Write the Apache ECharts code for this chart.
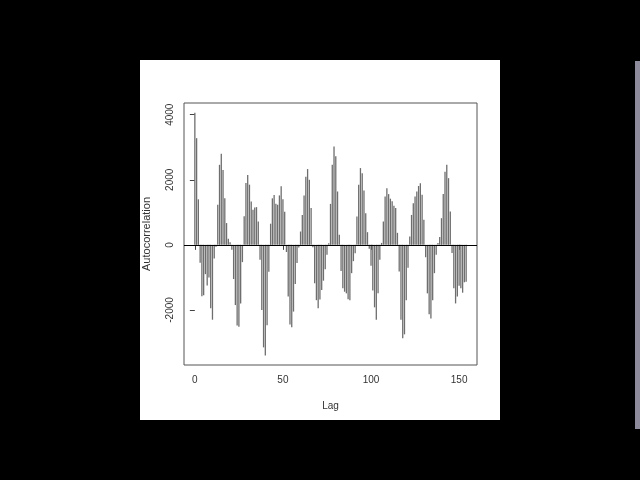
<!DOCTYPE html>
<html>
<head>
<meta charset="utf-8">
<script src="https://cdn.jsdelivr.net/npm/echarts@6/dist/echarts.min.js"></script>
<style>
html,body{margin:0;padding:0;background:#000;}
#chart{width:640px;height:480px;}
</style>
</head>
<body>
<div id="chart"></div>
<script>
// Lags 0..154
const acfValues = [
  4060, 3280, 1400, -550, -1580, -1550, -900, -1250, -1000, -1950,
  -2300, -420, -60, 1230, 2460, 2800, 2300, 1430, 670, 190,
  80, -150, -1050, -1850, -2480, -2520, -1800, -530, 880, 1900,
  2150, 1850, 1330, 1080, 1150, 1160, 720, -460, -2000, -3150,
  -3400, -2470, -830, 650, 1430, 1530, 1260, 1230, 1520, 1800,
  1400, 1020, -220, -1590, -2450, -2530, -2050, -1200, -560, -80,
  410, 920, 1520, 2090, 2330, 2000, 1130, -70, -1180, -1700,
  -1950, -1680, -1385, -1100, -750, -300, 50, 1260, 2460, 3025,
  2720, 1640, 310, -800, -1330, -1440, -1490, -1670, -1700, -870,
  -500, -260, 870, 1850, 2360, 2200, 1670, 970, 390, -120,
  -640, -1400, -1920, -2300, -1490, -460, 60, 720, 1490, 1740,
  1560, 1420, 1340, 1200, 1130, 370, -820, -2300, -2870, -2750,
  -1700, -700, 260, 920, 1280, 1490, 1640, 1810, 1890, 1540,
  770, -380, -1490, -2130, -2260, -1700, -870, -300, 60, 240,
  820, 1560, 2250, 2460, 2050, 1025, -250, -1330, -1800, -1590,
  -1260, -1330, -1470, -1150, -1130
];
const lags = acfValues.map((v, i) => i);
const xTicks = [0, 50, 100, 150];
const yTicks = [-2000, 0, 2000, 4000];

const seriesData = lags.map((l, i) => [l, acfValues[i]]);

const chart = echarts.init(document.getElementById('chart'), null, {renderer: 'canvas'});
chart.setOption({
  backgroundColor: '#000000',
  animation: false,
  graphic: [
    {type: 'rect', shape: {x: 140, y: 60, width: 360, height: 360}, style: {fill: '#ffffff'}, z: -10, silent: true},
    {type: 'rect', shape: {x: 635, y: 61, width: 5, height: 368}, style: {fill: '#8d8a9c'}, z: -10, silent: true}
  ],
  grid: {
    left: 184, right: 163, top: 103, bottom: 115,
    show: true, borderColor: '#555', borderWidth: 1, backgroundColor: '#ffffff'
  },
  xAxis: {
    type: 'value', min: -6.16, max: 160.16,
    name: 'Lag', nameLocation: 'middle', nameGap: 36,
    nameTextStyle: {color: '#333', fontSize: 10, fontFamily: 'Liberation Sans'},
    axisLine: {show: false},
    splitLine: {show: false},
    axisTick: {show: true, length: 5, customValues: xTicks, lineStyle: {color: '#444'}},
    axisLabel: {customValues: xTicks, margin: 10, color: '#333', fontSize: 10, fontFamily: 'Liberation Sans',
      formatter: v => String(v)}
  },
  yAxis: {
    type: 'value', min: -3692, max: 4360,
    name: 'Autocorrelation', nameLocation: 'middle', nameGap: 32, nameRotate: 90,
    nameTextStyle: {color: '#333', fontSize: 11, fontFamily: 'Liberation Sans'},
    axisLine: {show: false},
    splitLine: {show: false},
    axisTick: {show: true, length: 5, customValues: yTicks, lineStyle: {color: '#444'}},
    axisLabel: {customValues: yTicks, rotate: 90, margin: 9, color: '#333', fontSize: 10, fontFamily: 'Liberation Sans',
      formatter: v => String(v)}
  },
  series: [{
    type: 'bar',
    data: seriesData,
    barWidth: 1.3,
    itemStyle: {color: '#6e6e6e'},
    markLine: {
      silent: true, symbol: 'none', label: {show: false},
      lineStyle: {color: '#000', width: 1, type: 'solid'},
      data: [{yAxis: 0}]
    }
  }]
});
</script>
</body>
</html>
